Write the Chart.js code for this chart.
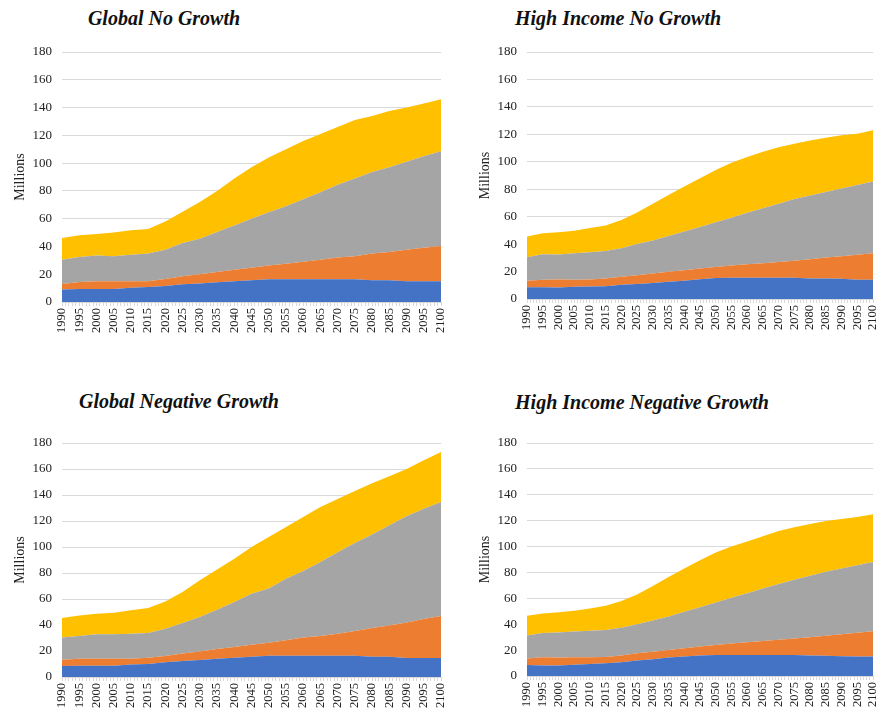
<!DOCTYPE html>
<html>
<head>
<meta charset="utf-8">
<script src="https://cdn.jsdelivr.net/npm/chart.js@4.4.1/dist/chart.umd.min.js"></script>
<style>
  html, body { margin: 0; padding: 0; background: #fff; }
  body { width: 893px; height: 712px; position: relative; overflow: hidden; }
  .title {
    position: absolute;
    transform: translate(-50%, -50%);
    white-space: nowrap;
    font-family: 'Liberation Serif', 'Times New Roman', serif;
    font-weight: bold;
    font-style: italic;
    font-size: 20px;
    color: #111;
  }
  .box { position: absolute; }
</style>
</head>
<body>

<div class="title" style="left:164px; top:18px">Global No Growth</div>
<div class="title" style="left:618px; top:18px">High Income No Growth</div>
<div class="title" style="left:179px; top:401px">Global Negative Growth</div>
<div class="title" style="left:642px; top:402px">High Income Negative Growth</div>

<div class="box" style="left:0px; top:40px; width:446px; height:302px"><canvas id="globalNo"></canvas></div>
<div class="box" style="left:465px; top:40px; width:413px; height:299px"><canvas id="highNo"></canvas></div>
<div class="box" style="left:0px; top:431px; width:446px; height:286px"><canvas id="globalNeg"></canvas></div>
<div class="box" style="left:465px; top:431px; width:413px; height:285px"><canvas id="highNeg"></canvas></div>

<script>
// x categories (every 5 years)
const years = [1990, 1995, 2000, 2005, 2010, 2015, 2020, 2025, 2030, 2035, 2040, 2045,
               2050, 2055, 2060, 2065, 2070, 2075, 2080, 2085, 2090, 2095, 2100];

// Global No Growth (millions)
const gngBlue   = [9.0, 9.4, 9.4, 9.4, 10.3, 10.8, 11.5, 12.7, 13.4, 14.2, 15.0, 15.6, 16.3, 16.3, 16.3, 16.3, 16.3, 16.3, 15.6, 15.6, 15.0, 15.0, 15.0];
const gngOrange = [4.0, 5.0, 5.6, 5.6, 4.7, 4.2, 5.0, 5.8, 6.6, 7.4, 8.3, 9.1, 9.9, 11.3, 12.7, 14.2, 15.7, 16.7, 19.4, 20.4, 22.7, 24.0, 25.3];
const gngGray   = [17.5, 18.0, 18.4, 18.0, 19.0, 20.0, 21.2, 24.0, 25.6, 28.8, 31.7, 35.3, 38.4, 41.4, 45.0, 48.5, 52.5, 56.0, 58.6, 61.0, 63.3, 66.0, 68.2];
const gngYellow = [15.5, 15.6, 15.6, 17.0, 17.6, 17.5, 20.3, 22.5, 26.4, 29.6, 34.0, 37.0, 39.4, 41.0, 42.0, 42.0, 41.5, 42.0, 40.4, 40.5, 39.0, 38.0, 37.5];

// High Income No Growth
const hngBlue   = [8.5, 8.5, 8.4, 8.9, 9.2, 9.3, 10.4, 11.0, 11.6, 12.6, 13.3, 14.4, 15.3, 15.4, 15.4, 15.4, 15.4, 15.4, 15.0, 15.0, 14.8, 14.0, 14.0];
const hngOrange = [4.8, 5.5, 5.8, 5.1, 5.0, 5.7, 5.8, 6.3, 6.9, 7.2, 7.7, 7.9, 8.1, 9.1, 9.9, 10.7, 11.6, 12.5, 14.0, 15.2, 16.4, 18.3, 19.4];
const hngGray   = [17.2, 18.6, 18.3, 19.4, 19.9, 20.0, 20.8, 22.7, 24.1, 26.2, 28.2, 30.2, 32.6, 34.8, 37.5, 40.1, 42.5, 44.9, 46.5, 47.8, 49.3, 50.7, 52.2];
const hngYellow = [15.0, 15.3, 16.2, 16.4, 17.7, 18.5, 20.5, 23.0, 26.9, 29.8, 32.8, 35.5, 38.0, 40.0, 40.7, 41.1, 41.0, 40.4, 40.0, 39.5, 38.8, 37.5, 37.3];

// Global Negative Growth
const gnegBlue   = [8.5, 8.7, 8.7, 8.7, 9.7, 10.0, 11.3, 12.3, 13.1, 14.1, 14.9, 15.6, 16.4, 16.4, 16.4, 16.4, 16.4, 16.4, 15.6, 15.6, 14.6, 14.6, 14.6];
const gnegOrange = [4.8, 5.4, 5.4, 5.4, 4.4, 4.9, 4.9, 5.7, 6.6, 7.4, 8.1, 9.3, 10.0, 11.8, 13.9, 15.1, 16.9, 19.0, 22.1, 24.1, 27.4, 30.0, 32.4];
const gnegGray   = [17.0, 17.4, 18.7, 18.7, 19.2, 18.9, 21.0, 23.5, 26.5, 30.3, 34.7, 39.1, 41.6, 47.4, 51.2, 57.0, 62.7, 67.6, 72.0, 77.0, 81.6, 84.9, 87.6];
const gnegYellow = [15.1, 15.9, 15.9, 16.7, 18.0, 19.2, 20.8, 23.9, 28.2, 30.8, 33.3, 36.0, 39.7, 39.8, 41.5, 42.3, 41.0, 40.0, 39.3, 37.8, 36.4, 37.2, 38.4];

// High Income Negative Growth
const hnegBlue   = [8.5, 8.2, 8.2, 8.6, 9.2, 9.8, 10.7, 12.0, 13.0, 14.2, 15.0, 15.8, 16.3, 16.3, 16.3, 16.3, 16.3, 16.3, 15.8, 15.6, 15.3, 15.0, 15.0];
const hnegOrange = [5.0, 6.3, 6.1, 5.9, 5.3, 4.8, 5.1, 5.5, 5.8, 5.9, 6.4, 7.0, 7.7, 8.8, 9.8, 10.8, 11.7, 12.6, 14.2, 15.4, 16.9, 18.4, 19.6];
const hnegGray   = [17.8, 18.8, 19.3, 19.9, 20.4, 21.0, 21.4, 22.5, 24.0, 25.9, 28.2, 30.4, 32.8, 35.4, 37.9, 40.5, 43.0, 45.5, 47.5, 49.5, 50.8, 52.1, 53.4];
const hnegYellow = [15.3, 15.0, 15.7, 16.0, 17.3, 18.6, 20.8, 23.0, 26.7, 30.5, 33.4, 36.3, 38.7, 39.5, 40.0, 40.4, 41.0, 40.6, 40.0, 39.2, 38.3, 37.3, 36.9];

const seriesNames = ['Series 1', 'Series 2', 'Series 3', 'Series 4'];
const colors = ['#4472C4', '#ED7D31', '#A5A5A5', '#FFC000'];
const serif = 'Liberation Serif, Times New Roman, serif';

function makeChart(id, values) {
    const ctx = document.getElementById(id).getContext('2d');
    return new Chart(ctx, {
        type: 'line',
        data: {
            datasets: values.map((arr, k) => ({
                label: seriesNames[k],
                data: arr.map((v, i) => ({ x: years[i], y: v })),
                backgroundColor: colors[k],
                borderWidth: 0,
                pointRadius: 0,
                fill: k === 0 ? 'origin' : '-1'
            }))
        },
        options: {
            responsive: true,
            maintainAspectRatio: false,
            animation: false,
            layout: { padding: { top: 12, right: 5, left: 0, bottom: 0 } },
            plugins: {
                legend: { display: false },
                tooltip: { enabled: false }
            },
            scales: {
                x: {
                    type: 'linear',
                    min: 1990,
                    max: 2100,
                    grid: { drawOnChartArea: false, color: '#d9d9d9', tickLength: 4 },
                    border: { color: '#d9d9d9' },
                    ticks: {
                        stepSize: 1,
                        autoSkip: false,
                        minRotation: 90,
                        maxRotation: 90,
                        padding: 2,
                        color: '#222',
                        font: { family: serif, size: 12.5 },
                        callback: v => Math.round(v) % 5 === 0 ? String(Math.round(v)) : ''
                    },
                    afterFit: s => { s.height = 40; s.paddingLeft = 0; s.paddingRight = 0; }
                },
                y: {
                    stacked: true,
                    min: 0,
                    max: 180,
                    grid: { color: '#d9d9d9', drawTicks: false },
                    border: { display: false },
                    ticks: { stepSize: 20, padding: 10, color: '#222', font: { family: serif, size: 13 } },
                    title: {
                        display: true,
                        text: 'Millions',
                        color: '#222',
                        font: { family: serif, size: 14 },
                        padding: { top: 12, bottom: 0 }
                    },
                    // fixed axis width, no extra top/bottom padding
                    afterFit: s => { s.width = 62; s.paddingTop = 0; s.paddingBottom = 0; }
                }
            }
        }
    });
}

makeChart('globalNo', [gngBlue, gngOrange, gngGray, gngYellow]);
makeChart('highNo', [hngBlue, hngOrange, hngGray, hngYellow]);
makeChart('globalNeg', [gnegBlue, gnegOrange, gnegGray, gnegYellow]);
makeChart('highNeg', [hnegBlue, hnegOrange, hnegGray, hnegYellow]);
</script>
</body>
</html>
